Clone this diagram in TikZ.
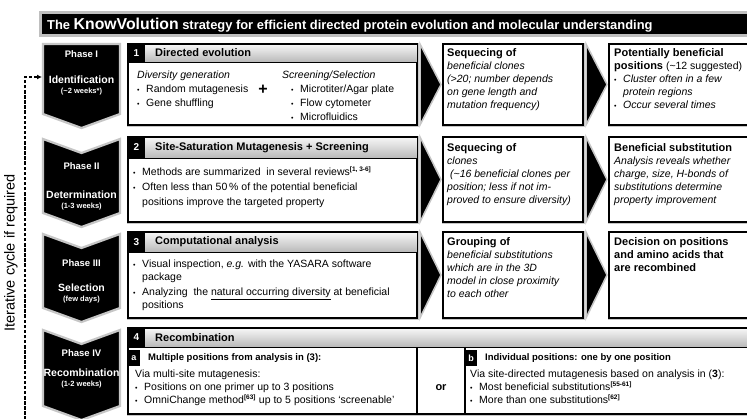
\documentclass[tikz,border=0pt]{standalone}
\usepackage{fontspec}
\setmainfont{Liberation Sans}
\usetikzlibrary{arrows.meta}
\newcommand{\bul}{\makebox[9pt][l]{\raisebox{0.6pt}{\fontsize{7}{7}\selectfont\textbullet}}}
\newcommand{\ind}{\hspace*{9pt}}
\newcommand{\refsup}[1]{\textsuperscript{\bfseries\fontsize{6.5}{7}\selectfont #1}}
\begin{document}
\begin{tikzpicture}[x=1pt,y=-1pt,
 glowline/.style={draw=gray!45, line width=3pt},
 boxline/.style={draw=black, line width=1.2pt},
 band/.style={top color=gray!6, bottom color=gray!55, draw=black, line width=0.8pt},
 numbox/.style={fill=black, text=white, inner sep=0pt, font=\bfseries\fontsize{10}{10}\selectfont},
 hd/.style={anchor=west, inner sep=0pt, font=\bfseries\fontsize{11}{13}\selectfont},
 subhd/.style={anchor=west, inner sep=0pt, font=\bfseries\fontsize{9.5}{11}\selectfont},
 txt/.style={anchor=north west, align=left, inner sep=0pt, font=\fontsize{10.5}{13}\selectfont},
 ph/.style={text=white, inner sep=0pt, font=\bfseries\fontsize{9.5}{10}\selectfont},
 phname/.style={text=white, inner sep=0pt, font=\bfseries\fontsize{10.5}{11}\selectfont},
 phtime/.style={text=white, inner sep=0pt, font=\bfseries\fontsize{7.5}{8}\selectfont},
 chev/.style={fill=black, draw=gray!45, line width=2.2pt, line join=miter},
 tri/.style={fill=black, draw=gray!45, line width=1.5pt, line join=miter},
 loop/.style={line width=1.2pt, dash pattern=on 3.5pt off 1.6pt, -{Latex[length=5pt,width=5pt]}},
]
\useasboundingbox (0,0) rectangle (747,418);
\clip (0,0) rectangle (747,418);
\fill[white] (0,0) rectangle (747,418);

% ---- title ----
\draw[draw=gray!50, line width=3pt, fill=black] (40,12) rectangle (775,35);
\node[anchor=base west, text=white, inner sep=0pt] (title) at (47,29)
 {\bfseries\fontsize{12.9}{14}\selectfont The {\fontsize{15.8}{16}\selectfont KnowVolution} strategy for efficient directed protein evolution and molecular understanding};

% ---- phase chevrons ----
\draw[chev] (43,44) -- (120,44) -- (120,114) -- (81.5,128) -- (43,114) -- cycle;
\draw[chev] (43,139) -- (81.5,153) -- (120,139) -- (120,213) -- (81.5,227) -- (43,213) -- cycle;
\draw[chev] (43,234) -- (81.5,248) -- (120,234) -- (120,308) -- (81.5,322) -- (43,308) -- cycle;
\draw[chev] (43,330) -- (81.5,344) -- (120,330) -- (120,406) -- (81.5,420) -- (43,406) -- cycle;

\node[ph] (p1a) at (81.5,54) {Phase I};
\node[phname] (p1b) at (81.5,80) {Identification};
\node[phtime] (p1c) at (81.5,92) {(\textasciitilde2 weeks*)};
\node[ph] (p2a) at (81.5,166) {Phase II};
\node[phname] (p2b) at (81.5,195) {Determination};
\node[phtime] (p2c) at (81.5,207) {(1-3 weeks)};
\node[ph] (p3a) at (81.5,263) {Phase III};
\node[phname] (p3b) at (81.5,288) {Selection};
\node[phtime] (p3c) at (81.5,300) {(few days)};
\node[ph] (p4a) at (81.5,353) {Phase IV};
\node[phname] (p4b) at (81.5,373) {Recombination};
\node[phtime] (p4c) at (81.5,385) {(1-2 weeks)};

% ---- iterative loop ----
\coordinate (loopbot) at (25,425);
\coordinate (loopcorner) at (25,77);
\coordinate (p1in) at (42,77);
\draw[loop] (loopbot) -- (loopcorner) -- (p1in);
\node[rotate=90, inner sep=0pt, font=\fontsize{14.5}{15}\selectfont] (iter) at (11,253) {Iterative cycle if required};

% ---- box 1 ----
\draw[glowline] (128,44) rectangle (417,125);
\draw[boxline, fill=white] (128,44) rectangle (417,125);
\draw[band] (128,44) rectangle (417,62);
\node[numbox, minimum width=17pt, minimum height=18pt] (n1) at (136.5,53) {1};
\node[hd] (h1) at (155,53) {Directed evolution};
\node[txt, font=\fontsize{10.5}{14}\selectfont] (d1) at (137,71)
 {\textit{Diversity generation}\\\bul Random mutagenesis\\\bul Gene shuffling};
\node[inner sep=0pt, font=\bfseries\fontsize{16}{16}\selectfont] (plus) at (263,89.5) {+};
\node[txt, font=\fontsize{10.5}{14}\selectfont] (s1) at (282,71)
 {\textit{Screening/Selection}\\\ind\bul Microtiter/Agar plate\\\ind\bul Flow cytometer\\\ind\bul Microfluidics};

% ---- box 2 ----
\draw[glowline] (128,137) rectangle (417,222);
\draw[boxline, fill=white] (128,137) rectangle (417,222);
\draw[band] (128,137) rectangle (417,158);
\node[numbox, minimum width=17pt, minimum height=21pt] (n2) at (136.5,147.5) {2};
\node[hd] (h2) at (155,147.5) {Site-Saturation Mutagenesis + Screening};
\node[txt, font=\fontsize{10.5}{15}\selectfont] (t2) at (133,167)
 {\bul Methods are summarized\ \ in several reviews\refsup{[1, 3-6]}\\
  \bul Often less than 50\,\% of the potential beneficial\\
  \ind positions improve the targeted property};

% ---- box 3 ----
\draw[glowline] (128,232) rectangle (417,318);
\draw[boxline, fill=white] (128,232) rectangle (417,318);
\draw[band] (128,232) rectangle (417,252);
\node[numbox, minimum width=17pt, minimum height=20pt] (n3) at (136.5,242) {3};
\node[hd] (h3) at (155,242) {Computational analysis};
\node[txt] (t3) at (133,260)
 {\bul Visual inspection, \textit{e.g.} with the YASARA software\\
  \ind package\\[2pt]
  \bul Analyzing\ \ the \underline{natural occurring diversity} at beneficial\\
  \ind positions};

% ---- box 4 ----
\draw[glowline] (128,328) rectangle (780,414);
\draw[boxline, fill=white] (128,328) rectangle (780,414);
\draw[band] (128,328) rectangle (780,347);
\node[numbox, minimum width=17pt, minimum height=19pt] (n4) at (136.5,337.5) {4};
\node[hd] (h4) at (155,337.5) {Recombination};
\draw[boxline] (417,347) -- (417,414);
\draw[boxline] (465,347) -- (465,414);
\node[numbox, minimum width=12pt, minimum height=16pt, font=\bfseries\fontsize{9}{9}\selectfont] (na) at (134,358) {a};
\node[subhd] (ha) at (148,358) {Multiple positions from analysis in (3):};
\node[txt] (ta) at (135,370)
 {Via multi-site mutagenesis:\\
  \bul Positions on one primer up to 3 positions\\
  \bul OmniChange method\refsup{[63]} up to 5 positions ‘screenable’};
\node[inner sep=0pt, font=\bfseries\fontsize{11}{12}\selectfont] (or) at (441,388) {or};
\node[numbox, minimum width=12pt, minimum height=16pt, font=\bfseries\fontsize{9}{9}\selectfont] (nb) at (471,358) {b};
\node[subhd] (hb) at (485,358) {Individual positions: one by one position};
\node[txt] (tb) at (470,370)
 {Via site-directed mutagenesis based on analysis in (\textbf{3}):\\
  \bul Most beneficial substitutions\refsup{[55-61]}\\
  \bul More than one substitutions\refsup{[62]}};

% ---- arrows between columns ----
\draw[tri] (420,44) -- (441,84.5) -- (420,125) -- cycle;
\draw[tri] (586,44) -- (607,84.5) -- (586,125) -- cycle;
\draw[tri] (420,137) -- (441,179.5) -- (420,222) -- cycle;
\draw[tri] (586,137) -- (607,179.5) -- (586,222) -- cycle;
\draw[tri] (420,232) -- (441,275) -- (420,318) -- cycle;
\draw[tri] (586,232) -- (607,275) -- (586,318) -- cycle;

% ---- middle column ----
\draw[glowline] (443,44) rectangle (583,125);
\draw[boxline, fill=white] (443,44) rectangle (583,125);
\node[txt] (m1) at (447,48.5)
 {{\bfseries\fontsize{11}{12}\selectfont Sequecing of}\\
  \textit{beneficial clones}\\
  \textit{(>20; number depends}\\
  \textit{on gene length and}\\
  \textit{mutation frequency)}};
\draw[glowline] (443,137) rectangle (583,222);
\draw[boxline, fill=white] (443,137) rectangle (583,222);
\node[txt] (m2) at (447,143)
 {{\bfseries\fontsize{11}{12}\selectfont Sequecing of}\\
  \textit{clones}\\
  \textit{\ (\textasciitilde16 beneficial clones per}\\
  \textit{position; less if not im-}\\
  \textit{proved to ensure diversity)}};
\draw[glowline] (443,232) rectangle (583,318);
\draw[boxline, fill=white] (443,232) rectangle (583,318);
\node[txt] (m3) at (447,237.5)
 {{\bfseries\fontsize{11}{12}\selectfont Grouping of}\\
  \textit{beneficial substitutions}\\
  \textit{which are in the 3D}\\
  \textit{model in close proximity}\\
  \textit{to each other}};

% ---- right column ----
\draw[glowline] (609,44) rectangle (780,125);
\draw[boxline, fill=white] (609,44) rectangle (780,125);
\node[txt] (r1) at (614,48.5)
 {{\bfseries\fontsize{11}{12}\selectfont Potentially beneficial}\\
  {\bfseries\fontsize{11}{12}\selectfont positions} (\textasciitilde12 suggested)\\
  \bul\textit{Cluster often in a few}\\
  \ind\textit{protein regions}\\
  \bul\textit{Occur several times}};
\draw[glowline] (609,137) rectangle (780,222);
\draw[boxline, fill=white] (609,137) rectangle (780,222);
\node[txt] (r2) at (614,143)
 {{\bfseries\fontsize{11}{12}\selectfont Beneficial substitution}\\
  \textit{Analysis reveals whether}\\
  \textit{charge, size, H-bonds of}\\
  \textit{substitutions determine}\\
  \textit{property improvement}};
\draw[glowline] (609,232) rectangle (780,318);
\draw[boxline, fill=white] (609,232) rectangle (780,318);
\node[txt, font=\bfseries\fontsize{11}{13}\selectfont] (r3) at (614,237.5)
 {Decision on positions\\and amino acids that\\are recombined};
\end{tikzpicture}
\end{document}
